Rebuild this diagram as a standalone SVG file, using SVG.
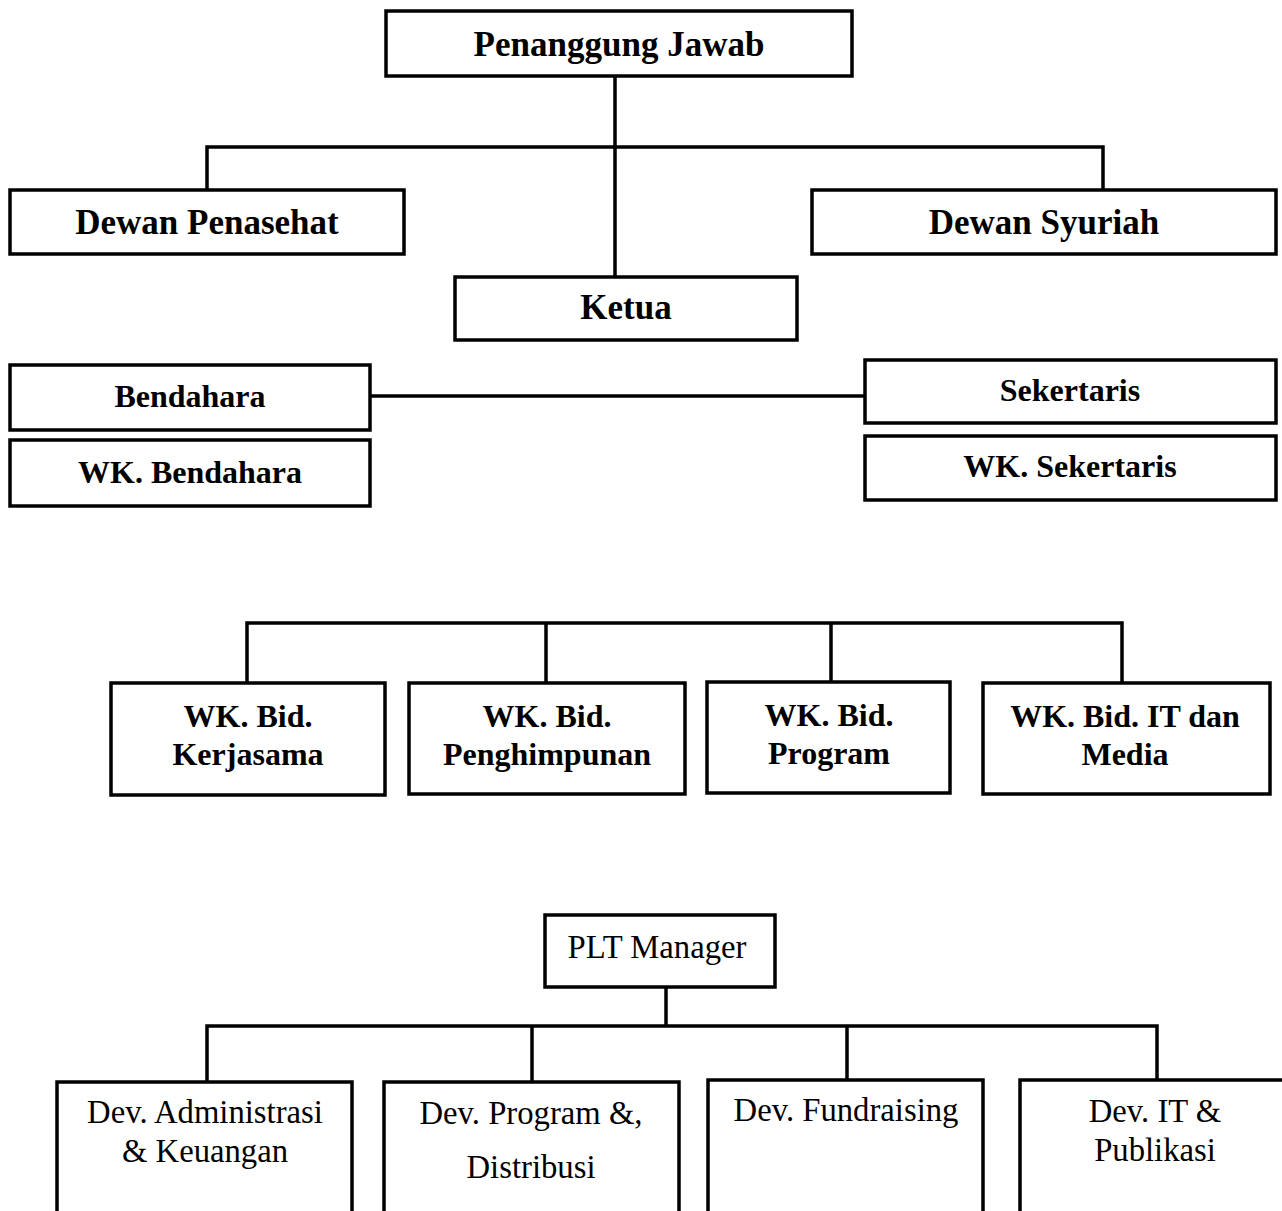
<svg xmlns="http://www.w3.org/2000/svg" width="1282" height="1211" viewBox="0 0 1282 1211">
<style>
.box{fill:#fff;stroke:#000;stroke-width:3.5}
.con{fill:none;stroke:#000;stroke-width:3.5}
.b{font-family:"Liberation Serif","Times New Roman",serif;font-weight:bold;font-size:35px;text-anchor:middle;fill:#000}
.m{font-family:"Liberation Serif","Times New Roman",serif;font-weight:bold;font-size:32px;text-anchor:middle;fill:#000}
.r{font-family:"Liberation Serif","Times New Roman",serif;font-size:32.7px;text-anchor:middle;fill:#000}
</style>
<rect width="1282" height="1211" fill="#fff"/>
<g id="connectors">
<path class="con" d="M615 76V277"/>
<path class="con" d="M207 190V147H1103V190"/>
<path class="con" d="M370 396H865"/>
<path class="con" d="M247 683V623H1122V683"/>
<path class="con" d="M546 623V683"/>
<path class="con" d="M831 623V683"/>
<path class="con" d="M666 987V1026"/>
<path class="con" d="M207 1082V1026H1157V1082"/>
<path class="con" d="M532 1026V1082"/>
<path class="con" d="M847 1026V1082"/>
</g>
<g id="penanggung-jawab"><rect class="box" x="386" y="11" width="466" height="65"/><text class="b" x="619" y="56">Penanggung Jawab</text></g>
<g id="dewan-penasehat"><rect class="box" x="10" y="190" width="394" height="64"/><text class="b" x="207" y="234">Dewan Penasehat</text></g>
<g id="dewan-syuriah"><rect class="box" x="812" y="190" width="464" height="64"/><text class="b" x="1044" y="234">Dewan Syuriah</text></g>
<g id="ketua"><rect class="box" x="455" y="277" width="342" height="63"/><text class="b" x="626" y="319">Ketua</text></g>
<g id="bendahara"><rect class="box" x="10" y="365" width="360" height="65"/><text class="m" x="190" y="407">Bendahara</text></g>
<g id="wk-bendahara"><rect class="box" x="10" y="440" width="360" height="66"/><text class="m" x="190" y="483">WK. Bendahara</text></g>
<g id="sekertaris"><rect class="box" x="865" y="360" width="411" height="63"/><text class="m" x="1070" y="401">Sekertaris</text></g>
<g id="wk-sekertaris"><rect class="box" x="865" y="436" width="411" height="64"/><text class="m" x="1070" y="477">WK. Sekertaris</text></g>
<g id="wk-kerjasama"><rect class="box" x="111" y="683" width="274" height="112"/><text class="m" x="248" y="727">WK. Bid.</text><text class="m" x="248" y="765">Kerjasama</text></g>
<g id="wk-penghimpunan"><rect class="box" x="409" y="683" width="276" height="111"/><text class="m" x="547" y="727">WK. Bid.</text><text class="m" x="547" y="765">Penghimpunan</text></g>
<g id="wk-program"><rect class="box" x="707" y="682" width="243" height="111"/><text class="m" x="829" y="726">WK. Bid.</text><text class="m" x="829" y="764">Program</text></g>
<g id="wk-it-media"><rect class="box" x="983" y="683" width="287" height="111"/><text class="m" x="1125" y="727">WK. Bid. IT dan</text><text class="m" x="1125" y="765">Media</text></g>
<g id="plt-manager"><rect class="box" x="545" y="915" width="230" height="72"/><text class="r" x="657" y="958">PLT Manager</text></g>
<g id="dev-admin"><rect class="box" x="57" y="1082" width="295" height="160"/><text class="r" x="205" y="1123">Dev. Administrasi</text><text class="r" x="205" y="1162">&amp; Keuangan</text></g>
<g id="dev-program"><rect class="box" x="384" y="1082" width="295" height="160"/><text class="r" x="531" y="1124">Dev. Program &amp;,</text><text class="r" x="531" y="1178">Distribusi</text></g>
<g id="dev-fundraising"><rect class="box" x="708" y="1080" width="275" height="160"/><text class="r" x="846" y="1121">Dev. Fundraising</text></g>
<g id="dev-it"><rect class="box" x="1020" y="1080" width="275" height="160"/><text class="r" x="1155" y="1122">Dev. IT &amp;</text><text class="r" x="1155" y="1161">Publikasi</text></g>
</svg>
